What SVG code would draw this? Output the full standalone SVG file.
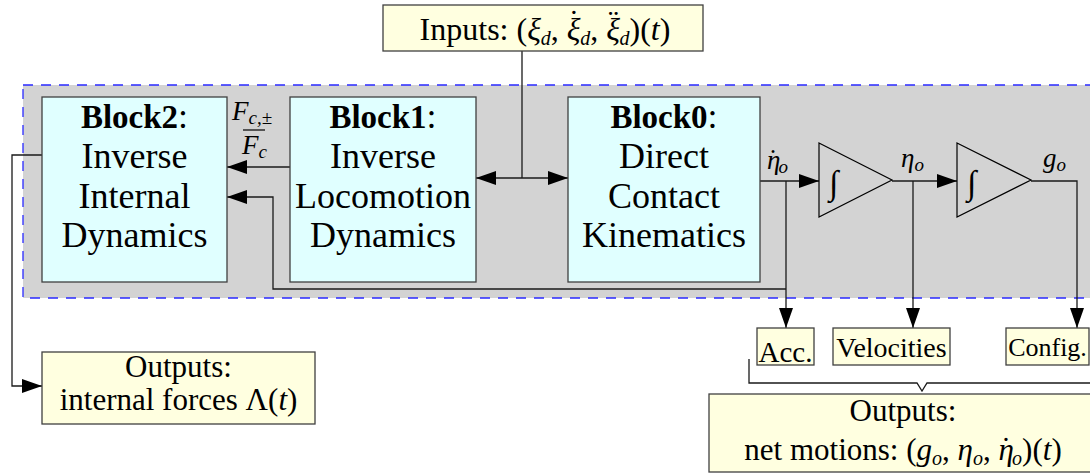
<svg xmlns="http://www.w3.org/2000/svg" width="1090" height="475" viewBox="0 0 1090 475" font-family="'Liberation Serif', 'DejaVu Serif', serif">
<defs>
<marker id="ah" viewBox="0 0 20 14" refX="20" refY="7" markerWidth="20" markerHeight="14" markerUnits="userSpaceOnUse" orient="auto-start-reverse"><path d="M0,0 L20,7 L0,14 Z" fill="#000"/></marker>
</defs>
<style>
text{font-family:'Liberation Serif','DejaVu Serif',serif;fill:#000}
.blk{fill:#e0ffff;stroke:#404040;stroke-width:1.3}
.io{fill:#ffffe0;stroke:#404040;stroke-width:1.3}
.bt{font-size:36px;text-anchor:middle}
.bh{font-weight:bold;font-size:33px}
.st{font-size:31px;text-anchor:middle}
.sm{font-size:28px;text-anchor:middle}
.m{font-style:italic}
.sub{font-size:20px;font-style:italic}
.lab{font-size:27px;font-style:italic}
.c{fill:none;stroke:#1a1a1a;stroke-width:1.3}
.a{marker-end:url(#ah)}
.tri{fill:#d3d3d3;stroke:#000;stroke-width:1.2}
</style>
<rect id="bg" x="23" y="85" width="1090" height="213" fill="#d3d3d3" stroke="#2a2aff" stroke-width="1.3" stroke-dasharray="10 8"/>

<g id="connectors">
<path class="c" d="M522,51 V178"/>
<path class="c a" d="M476,178 H568" marker-start="url(#ah)"/>
<path class="c a" d="M290,167 H227"/>
<path class="c a" d="M760,181 H819"/>
<path class="c a" d="M786,181 V328"/>
<path class="c a" d="M786,289 H273 V197 H227"/>
<path class="c a" d="M892,181 H957"/>
<path class="c a" d="M913,181 V328"/>
<path class="c a" d="M1031,181 H1077 V328"/>
<path class="c a" d="M42,155 H12 V386 H42"/>
<path class="c" d="M749,359 V383 H917 L922,391 L927,383 H1095"/>
</g>

<g id="inputs">
<rect class="io" x="383" y="5" width="320" height="46"/>
<text class="st" x="545" y="40" style="font-size:32px">Inputs: (<tspan class="m">ξ</tspan><tspan class="sub" dy="5">d</tspan><tspan dy="-5">, </tspan><tspan class="m">ξ</tspan><tspan dx="-12" dy="-8">˙</tspan><tspan class="sub" dx="1" dy="13">d</tspan><tspan dy="-5">, </tspan><tspan class="m">ξ</tspan><tspan dx="-12" dy="-8">¨</tspan><tspan class="sub" dx="1" dy="13">d</tspan><tspan dy="-5">)(</tspan><tspan class="m">t</tspan>)</text>
</g>

<g id="block2">
<rect class="blk" x="42" y="97" width="185" height="185"/>
<text class="bt" x="134.5" y="128"><tspan class="bh">Block2</tspan>:</text>
<text class="bt" x="134.5" y="168">Inverse</text>
<text class="bt" x="134.5" y="208">Internal</text>
<text class="bt" x="134.5" y="247">Dynamics</text>
</g>

<g id="block1">
<rect class="blk" x="290" y="97" width="186" height="185"/>
<text class="bt" x="383" y="128"><tspan class="bh">Block1</tspan>:</text>
<text class="bt" x="383" y="168">Inverse</text>
<text class="bt" x="383" y="208">Locomotion</text>
<text class="bt" x="383" y="247">Dynamics</text>
</g>

<g id="block0">
<rect class="blk" x="568" y="97" width="192" height="185"/>
<text class="bt" x="664" y="128"><tspan class="bh">Block0</tspan>:</text>
<text class="bt" x="664" y="168">Direct</text>
<text class="bt" x="664" y="208">Contact</text>
<text class="bt" x="664" y="247">Kinematics</text>
</g>

<g id="flabel">
<text x="232" y="120" style="font-size:27px" class="m">F<tspan style="font-size:19px" dy="4">c,±</tspan></text>
<line x1="243" y1="130" x2="265" y2="130" stroke="#000" stroke-width="1.2"/>
<text x="242" y="154" style="font-size:27px" class="m">F<tspan style="font-size:19px" dy="4">c</tspan></text>
</g>

<g id="int1">
<path class="tri" d="M819,143 L892,180 L819,217 Z"/>
<text x="829" y="194" style="font-size:34px" class="m">∫</text>
</g>
<g id="int2">
<path class="tri" d="M957,143 L1031,180 L957,217 Z"/>
<text x="967" y="194" style="font-size:34px" class="m">∫</text>
</g>

<g id="labels">
<text class="lab" x="767" y="169">η<tspan dx="-12" dy="-1" style="font-style:normal">˙</tspan><tspan style="font-size:19px" dx="1" dy="5">o</tspan></text>
<text class="lab" x="901" y="167">η<tspan style="font-size:19px" dy="4">o</tspan></text>
<text class="lab" x="1043" y="167">g<tspan style="font-size:19px" dy="4">o</tspan></text>
</g>

<g id="acc">
<rect class="io" x="757" y="328" width="57" height="37"/>
<text class="sm" x="785.5" y="362" style="font-size:29px">Acc.</text>
</g>
<g id="vel">
<rect class="io" x="833" y="328" width="117" height="37"/>
<text class="sm" x="891.5" y="357">Velocities</text>
</g>
<g id="config">
<rect class="io" x="1006" y="328" width="83" height="37"/>
<text class="sm" x="1047.5" y="356" style="font-size:26px">Config.</text>
</g>

<g id="netout">
<rect class="io" x="709" y="394" width="390" height="78"/>
<text class="st" x="903" y="421">Outputs:</text>
<text class="st" x="903" y="460">net motions: (<tspan class="m">g</tspan><tspan class="sub" dy="5">o</tspan><tspan dy="-5">, </tspan><tspan class="m">η</tspan><tspan class="sub" dy="5">o</tspan><tspan dy="-5">, </tspan><tspan class="m">η</tspan><tspan dx="-13" dy="-1">˙</tspan><tspan class="sub" dx="1" dy="6">o</tspan><tspan dy="-5">)(</tspan><tspan class="m">t</tspan>)</text>
</g>

<g id="intout">
<rect class="io" x="42" y="352" width="273" height="72"/>
<text class="st" x="178.5" y="377">Outputs:</text>
<text class="st" x="178.5" y="410">internal forces Λ(<tspan class="m">t</tspan>)</text>
</g>
</svg>
